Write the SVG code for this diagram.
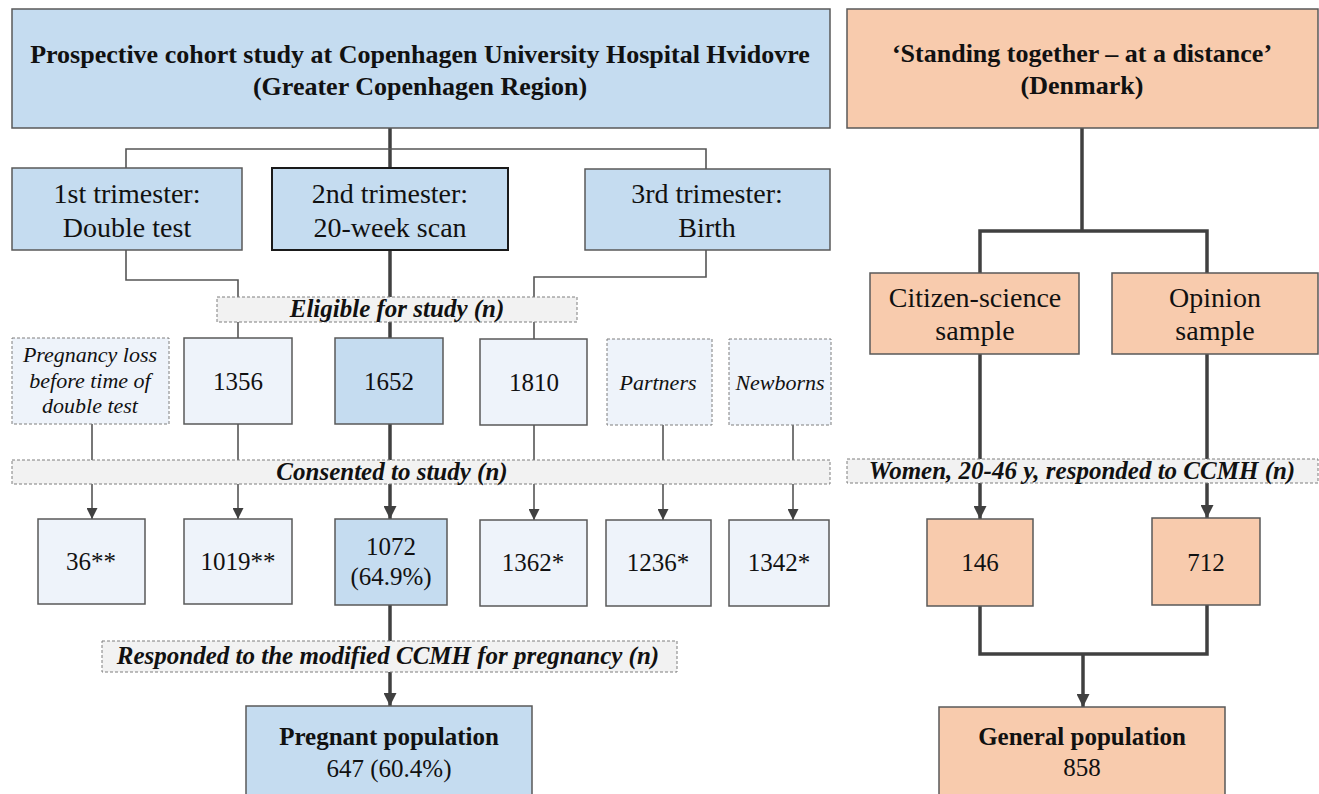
<svg xmlns="http://www.w3.org/2000/svg" width="1319" height="794" viewBox="0 0 1319 794">
<defs>
<style>
text{fill:#111;text-anchor:middle}
.blue{fill:#c5dcf0;stroke:#595959;stroke-width:1.5}
.lite{fill:#eef3fa;stroke:#595959;stroke-width:1.5}
.dash{fill:#eef3fa;stroke:#7f7f7f;stroke-width:1;stroke-dasharray:3,2}
.peach{fill:#f8cbad;stroke:#595959;stroke-width:1.5}
.lab{fill:#f2f2f2;stroke:#7f7f7f;stroke-width:1;stroke-dasharray:3,2}
.title{font-size:26px;font-weight:bold}
.btitle{font-size:25px;font-weight:bold}
.tri{font-size:28px}
.num{font-size:25px}
.it{font-size:22px;font-style:italic}
.bi{font-size:25px;font-weight:bold;font-style:italic}
.thin{fill:none;stroke:#555;stroke-width:1.6}
.thick{fill:none;stroke:#404040;stroke-width:3.5}
</style>
<marker id="a" viewBox="0 0 10 10" refX="10" refY="5" markerWidth="11" markerHeight="11" markerUnits="userSpaceOnUse" orient="auto"><path d="M0,0L10,5L0,10z" fill="#404040"/></marker>
<marker id="at" viewBox="0 0 10 10" refX="10" refY="5" markerWidth="13" markerHeight="13" markerUnits="userSpaceOnUse" orient="auto"><path d="M0,0L10,5L0,10z" fill="#404040"/></marker>
</defs>
<g id="connectors">
<path class="thick" d="M390,128V168"/>
<path class="thin" d="M126,168V149H706V169"/>
<path class="thin" d="M126,250V280H238V338"/>
<path class="thick" d="M390,250V338"/>
<path class="thin" d="M706,250V277H534V339"/>
<path class="thin" d="M92,424V519" marker-end="url(#a)"/>
<path class="thin" d="M238,424V519" marker-end="url(#a)"/>
<path class="thick" d="M390,424V519" marker-end="url(#at)"/>
<path class="thin" d="M534,425V520" marker-end="url(#a)"/>
<path class="thin" d="M663,425V520" marker-end="url(#a)"/>
<path class="thin" d="M793,425V520" marker-end="url(#a)"/>
<path class="thick" d="M390,605V706" marker-end="url(#at)"/>
<path class="thick" d="M1082,128V231"/>
<path class="thick" d="M980,273V231H1207V273"/>
<path class="thick" d="M980,354V519" marker-end="url(#at)"/>
<path class="thick" d="M1207,354V518" marker-end="url(#at)"/>
<path class="thick" d="M980,606V654H1207V605"/>
<path class="thick" d="M1083,654V707" marker-end="url(#at)"/>
</g>
<g font-family="'Liberation Serif', 'Times New Roman', serif">
<g id="labels">
<g id="eligible"><rect class="lab" x="217" y="297" width="360" height="25"/><text class="bi" x="397" y="317">Eligible for study (n)</text></g>
<g id="consented"><rect class="lab" x="12" y="460" width="818" height="24"/><text class="bi" x="392" y="480">Consented to study (n)</text></g>
<g id="responded"><rect class="lab" x="102" y="641" width="575" height="31"/><text class="bi" x="388" y="664">Responded to the modified CCMH for pregnancy (n)</text></g>
<g id="women"><rect class="lab" x="847" y="459" width="471" height="24"/><text class="bi" x="1082" y="479">Women, 20-46 y, responded to CCMH (n)</text></g>
</g>
<g id="cohort"><rect class="blue" x="12" y="9" width="818" height="119"/><text class="title" x="420" y="63">Prospective cohort study at Copenhagen University Hospital Hvidovre</text><text class="title" x="420" y="95">(Greater Copenhagen Region)</text></g>
<g id="tri1"><rect class="blue" x="12" y="168" width="230" height="82"/><text class="tri" x="127" y="203">1st trimester:</text><text class="tri" x="127" y="237">Double test</text></g>
<g id="tri2"><rect class="blue" x="272" y="168" width="236" height="82" style="stroke:#1a1a1a;stroke-width:2"/><text class="tri" x="390" y="203">2nd trimester:</text><text class="tri" x="390" y="237">20-week scan</text></g>
<g id="tri3"><rect class="blue" x="585" y="169" width="245" height="81"/><text class="tri" x="707" y="203">3rd trimester:</text><text class="tri" x="707" y="237">Birth</text></g>
<g id="loss"><rect class="dash" x="12" y="338" width="157" height="86"/><text class="it" x="90" y="362">Pregnancy loss</text><text class="it" x="90" y="388">before time of</text><text class="it" x="90" y="413">double test</text></g>
<g id="e1356"><rect class="lite" x="184" y="338" width="108" height="86"/><text class="num" x="238" y="390">1356</text></g>
<g id="e1652"><rect class="blue" x="335" y="338" width="108" height="86"/><text class="num" x="389" y="390">1652</text></g>
<g id="e1810"><rect class="lite" x="480" y="339" width="107" height="86"/><text class="num" x="534" y="391">1810</text></g>
<g id="partners"><rect class="dash" x="607" y="339" width="105" height="86"/><text class="it" x="658" y="390">Partners</text></g>
<g id="newborns"><rect class="dash" x="729" y="339" width="102" height="86"/><text class="it" x="780" y="390">Newborns</text></g>
<g id="c36"><rect class="lite" x="38" y="519" width="107" height="85"/><text class="num" x="91" y="570">36**</text></g>
<g id="c1019"><rect class="lite" x="184" y="519" width="108" height="85"/><text class="num" x="238" y="570">1019**</text></g>
<g id="c1072"><rect class="blue" x="335" y="519" width="112" height="86"/><text class="num" x="391" y="555">1072</text><text class="num" x="391" y="585">(64.9%)</text></g>
<g id="c1362"><rect class="lite" x="480" y="520" width="107" height="86"/><text class="num" x="533" y="571">1362*</text></g>
<g id="c1236"><rect class="lite" x="606" y="520" width="105" height="86"/><text class="num" x="658" y="571">1236*</text></g>
<g id="c1342"><rect class="lite" x="729" y="520" width="100" height="86"/><text class="num" x="779" y="571">1342*</text></g>
<g id="pregnant"><rect class="blue" x="246" y="706" width="286" height="100"/><text class="btitle" x="389" y="745">Pregnant population</text><text class="num" x="389" y="777">647 (60.4%)</text></g>
<g id="standing"><rect class="peach" x="847" y="9" width="471" height="119"/><text class="title" x="1082" y="62">‘Standing together – at a distance’</text><text class="title" x="1082" y="94">(Denmark)</text></g>
<g id="citizen"><rect class="peach" x="870" y="273" width="209" height="81"/><text class="tri" x="975" y="307">Citizen-science</text><text class="tri" x="975" y="340">sample</text></g>
<g id="opinion"><rect class="peach" x="1112" y="273" width="206" height="81"/><text class="tri" x="1215" y="307">Opinion</text><text class="tri" x="1215" y="340">sample</text></g>
<g id="n146"><rect class="peach" x="927" y="519" width="106" height="87"/><text class="num" x="980" y="571">146</text></g>
<g id="n712"><rect class="peach" x="1152" y="518" width="108" height="87"/><text class="num" x="1206" y="571">712</text></g>
<g id="general"><rect class="peach" x="939" y="707" width="286" height="100"/><text class="btitle" x="1082" y="745">General population</text><text class="num" x="1082" y="776">858</text></g>
</g>
</svg>
